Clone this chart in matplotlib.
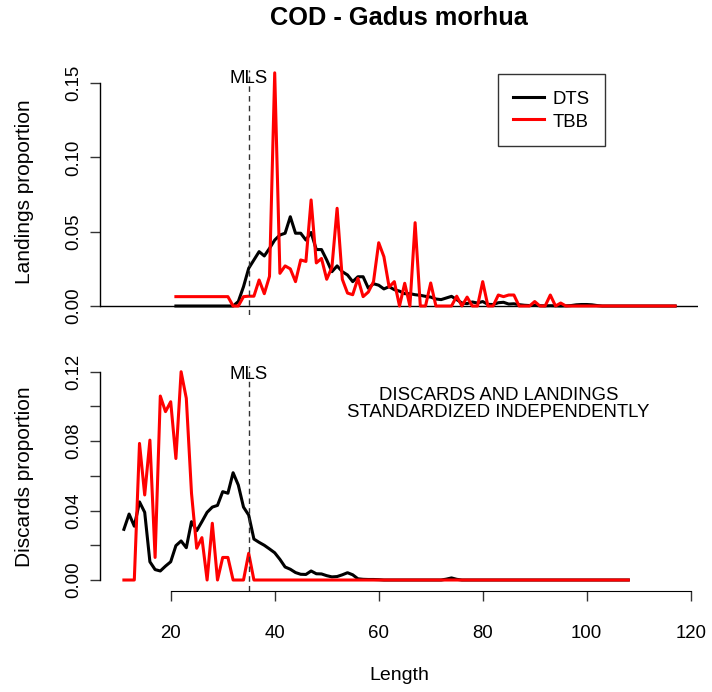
import matplotlib
matplotlib.use("Agg")
import matplotlib.pyplot as plt
import matplotlib.transforms as mtransforms

plt.rcParams['font.family'] = ['Liberation Sans', 'DejaVu Sans']

# ---------------- data ----------------
title = "COD - Gadus morhua"
series_names = ["DTS", "TBB"]
MLS = 35

land_len = list(range(21, 118))
land_dts = [0]*12 + [
    0.003, 0.013, 0.0254, 0.031, 0.0366, 0.0337, 0.0388, 0.0444, 0.0478, 0.049,
    0.0601, 0.049, 0.049, 0.0444, 0.0495, 0.038, 0.038, 0.031, 0.0231, 0.027,
    0.0231, 0.0209, 0.0164, 0.0197, 0.0197, 0.012, 0.015, 0.014, 0.0115, 0.013,
    0.011, 0.010, 0.0083, 0.0083, 0.0076, 0.0072, 0.0065, 0.006, 0.0047, 0.0043,
    0.0054, 0.0065, 0.0043, 0.002, 0.0016, 0.0027, 0.002, 0.003, 0.0011, 0.001,
    0.0022, 0.0025, 0.0013, 0.0015, 0.0009, 0.0005, 0.0003, 0.0004, 0.0002, 0.0001,
    0.0002, 0.0001, 0.0, 0.0001, 0.0003, 0.0008, 0.001, 0.001, 0.0008, 0.0003,
] + [0]*15
land_tbb = [0.0063]*11 + [
    0, 0, 0.0063, 0.0066, 0.0066, 0.0175, 0.0083, 0.02, 0.157, 0.022,
    0.027, 0.025, 0.0164, 0.031, 0.030, 0.0714, 0.029, 0.032, 0.018, 0.026,
    0.0658, 0.018, 0.0087, 0.0076, 0.0186, 0.0063, 0.0094, 0.0164, 0.0426, 0.0332,
    0.0128, 0.0164, 0, 0.0153, 0, 0.0561, 0, 0, 0.0155, 0,
    0, 0, 0, 0.0066, 0, 0.006, 0, 0, 0.0164, 0,
    0, 0.0074, 0.0063, 0.0074, 0.0074, 0, 0, 0, 0.003, 0,
    0, 0.0074, 0, 0.002,
] + [0]*22

disc_len = list(range(11, 109))
disc_dts = [
    0.0292, 0.038, 0.031, 0.045, 0.039, 0.0105, 0.006, 0.0052, 0.008, 0.0105,
    0.0198, 0.0225, 0.0186, 0.0336, 0.0284, 0.0336, 0.039, 0.042, 0.043, 0.0509,
    0.050, 0.0618, 0.0547, 0.042, 0.0374, 0.0236, 0.0217, 0.020, 0.0179, 0.0157,
    0.0119, 0.0075, 0.0062, 0.0043, 0.0033, 0.0032, 0.0052, 0.0036, 0.0035, 0.0025,
    0.0018, 0.002, 0.003, 0.0042, 0.003, 0.0007, 0.0004, 0.0003, 0.0003, 0.0002,
] + [0]*12 + [0.0005, 0.0012, 0.0004] + [0]*33
disc_tbb = [
    0, 0, 0, 0.0787, 0.049, 0.0806, 0.013, 0.106, 0.097, 0.1027,
    0.070, 0.120, 0.1047, 0.05, 0.0183, 0.0244, 0, 0.0327, 0, 0.013,
    0.013, 0, 0, 0, 0.0154,
] + [0]*73

x_ticks = [20, 40, 60, 80, 100, 120]
land_yticks = [0.00, 0.05, 0.10, 0.15]
land_ylabels = ["0.00", "0.05", "0.10", "0.15"]
disc_yticks = [0.00, 0.02, 0.04, 0.06, 0.08, 0.10, 0.12]
disc_ylabels = ["0.00", "", "0.04", "", "0.08", "", "0.12"]

# ---------------- layout ----------------
W, H = 712, 692
fig = plt.figure(figsize=(W/100, H/100), dpi=100)

def box(l, t, r, b):
    return [l/W, 1 - b/H, (r - l)/W, (b - t)/H]

ax1 = fig.add_axes(box(100, 70, 698, 315.4))
ax2 = fig.add_axes(box(100, 366, 698, 590.7))

XLIM = (6.404, 121.40)
FS = 13.4
LW = 2.2

for ax in (ax1, ax2):
    ax.set_xlim(*XLIM)
    for s in ("top", "right"):
        ax.spines[s].set_visible(False)
    ax.tick_params(axis="both", direction="out", length=7.5, width=1,
                   labelsize=FS, color="#333333")
    ax.spines["left"].set_linewidth(1)

# top panel
ax1.set_ylim(-0.00633, 0.1589)
ax1.axhline(0, color="black", lw=1)
ax1.plot(land_len, land_dts, color="black", lw=LW, label=series_names[0])
ax1.plot(land_len, land_tbb, color="red", lw=LW, label=series_names[1])
ax1.axvline(MLS, color="#333333", lw=1, ls=(0, (4, 3)))
ax1.spines["bottom"].set_visible(False)
ax1.spines["left"].set_bounds(0, 0.15)
ax1.set_xticks([])
ax1.set_yticks(land_yticks)
ax1.set_yticklabels(land_ylabels, rotation=90, va="center")
ax1.tick_params(axis="y", pad=5)
tr1 = mtransforms.blended_transform_factory(ax1.transData, ax1.transAxes)
ax1.text(MLS, 0.967, "MLS", transform=tr1, ha="center", va="center", fontsize=FS)

leg = ax1.legend(loc="upper left", bbox_to_anchor=(498/W, 1 - 74/H),
                 bbox_transform=fig.transFigure, borderaxespad=0,
                 fontsize=FS, frameon=True, fancybox=False, edgecolor="black",
                 handlelength=1.65, handletextpad=0.5, labelspacing=0.15,
                 handleheight=1.15, borderpad=0.8)
leg.get_frame().set_linewidth(1)

# bottom panel
ax2.set_ylim(-0.00616, 0.1233)
ax2.plot(disc_len, disc_dts, color="black", lw=LW)
ax2.plot(disc_len, disc_tbb, color="red", lw=LW)
ax2.axvline(MLS, color="#333333", lw=1, ls=(0, (4, 3)))
ax2.spines["left"].set_bounds(0, 0.12)
ax2.spines["bottom"].set_bounds(20, 120)
ax2.set_xticks(x_ticks)
ax2.set_xticklabels([str(v) for v in x_ticks])
ax2.tick_params(axis="x", pad=17)
ax2.set_yticks(disc_yticks)
ax2.set_yticklabels(disc_ylabels, rotation=90, va="center")
ax2.tick_params(axis="y", pad=5)
tr2 = mtransforms.blended_transform_factory(ax2.transData, ax2.transAxes)
ax2.text(MLS, 0.964, "MLS", transform=tr2, ha="center", va="center", fontsize=FS)
ax2.text(0.666, 0.831, "DISCARDS AND LANDINGS\nSTANDARDIZED INDEPENDENTLY",
         transform=ax2.transAxes, ha="center", va="center", fontsize=FS,
         linespacing=1.0)

# labels
fig.text(399/W, 1 - 18/H, title, ha="center", va="center",
         fontsize=18.3, fontweight="bold")
fig.text(25/W, 1 - 192/H, "Landings proportion", rotation=90,
         ha="center", va="center", fontsize=15)
fig.text(25/W, 1 - 477/H, "Discards proportion", rotation=90,
         ha="center", va="center", fontsize=15)
fig.text(399/W, 1 - 676/H, "Length", ha="center", va="center", fontsize=14)

fig.savefig("out.png", dpi=100)
